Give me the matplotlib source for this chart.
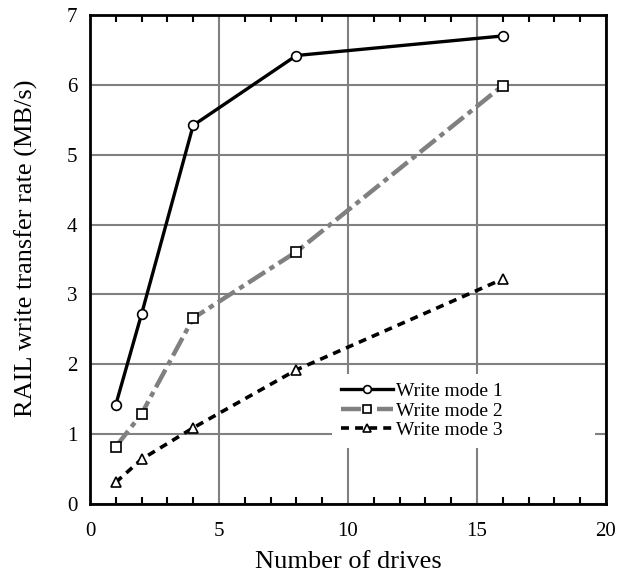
import matplotlib.pyplot as plt
from matplotlib.ticker import MultipleLocator

plt.rcParams['font.family'] = ['Liberation Serif', 'DejaVu Serif']

# Transfer rate for each write mode vs number of drives
drives = [1, 2, 4, 8, 16]
mode1 = [1.42, 2.72, 5.42, 6.42, 6.70]
mode2 = [0.82, 1.29, 2.66, 3.61, 5.99]
mode3 = [0.31, 0.64, 1.09, 1.92, 3.22]

labels = ["Write mode 1", "Write mode 2", "Write mode 3"]

fig = plt.figure(figsize=(6.24, 5.72), dpi=100)
ax = fig.add_axes([0.1442, 0.1189, 0.8269, 0.8549])

ax.plot(drives, mode1, color='black', lw=2.4, ls='-', marker='o', ms=7,
        mfc='white', mec='black', mew=1.2, label=labels[0], zorder=4)
ax.plot(drives, mode2, color='#808080', lw=3.2, ls=(0, (4.5, 1.2, 1.2, 1.2)),
        marker='s', ms=7, mfc='white', mec='black', mew=1.2,
        label=labels[1], zorder=3)
ax.plot(drives, mode3, color='black', lw=2.6, ls=(0, (2.2, 1.7)),
        marker='^', ms=7, mfc='white', mec='black', mew=1.2,
        label=labels[2], zorder=3)

ax.set_xlim(0, 20)
ax.set_ylim(0, 7)
ax.xaxis.set_major_locator(MultipleLocator(5))
ax.xaxis.set_minor_locator(MultipleLocator(1))
ax.yaxis.set_major_locator(MultipleLocator(1))

ax.grid(True, which='major', color='#808080', lw=1.5)
ax.set_axisbelow(True)
ax.tick_params(which='both', direction='in', top=True, right=False,
               labelsize=15, width=1.5, color='black')
ax.tick_params(which='major', length=0)
ax.tick_params(axis='x', which='major', pad=13)
ax.tick_params(axis='y', which='major', pad=9)
ax.tick_params(axis='x', which='minor', length=5)
for s in ax.spines.values():
    s.set_linewidth(2)

ax.set_xlabel("Number of drives", fontsize=19, labelpad=7)
ax.set_ylabel("RAIL write transfer rate (MB/s)", fontsize=19)
ax.yaxis.set_label_coords(-0.10, 0.524)

# wide white legend box that hides the gridlines behind it
leg = ax.legend(loc='lower left', bbox_to_anchor=(0.469, 0.1145, 0.51, 0.12),
                mode='expand', fontsize=14, frameon=True, fancybox=False,
                edgecolor='none', framealpha=1, handlelength=2.7,
                handletextpad=0.15, labelspacing=0.1, borderpad=0.45,
                borderaxespad=0, markerscale=0.8)
leg.set_zorder(5)

fig.savefig("out.png", dpi=100)
